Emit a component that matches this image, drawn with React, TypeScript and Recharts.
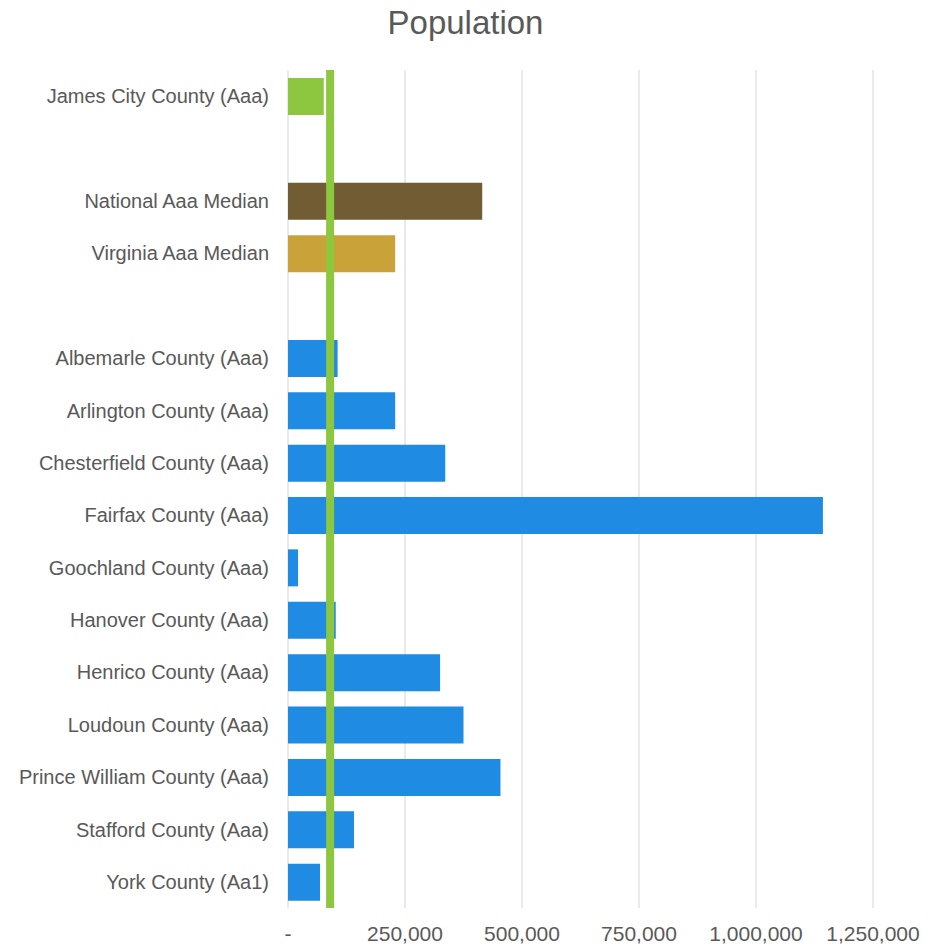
import { BarChart, Bar, XAxis, YAxis, CartesianGrid, Cell, ReferenceLine } from 'recharts';

const counties = [
  'James City County (Aaa)',
  '',
  'National Aaa Median',
  'Virginia Aaa Median',
  '',
  'Albemarle County (Aaa)',
  'Arlington County (Aaa)',
  'Chesterfield County (Aaa)',
  'Fairfax County (Aaa)',
  'Goochland County (Aaa)',
  'Hanover County (Aaa)',
  'Henrico County (Aaa)',
  'Loudoun County (Aaa)',
  'Prince William County (Aaa)',
  'Stafford County (Aaa)',
  'York County (Aa1)',
];

const population = [
  76400, null, 415000, 229000, null,
  106000, 229000, 336000, 1143000, 21500,
  102000, 325000, 375000, 454000, 141000, 68500,
];

const barColors = [
  '#8dc63f', '#ffffff', '#725c33', '#c9a339', '#ffffff',
  '#1f8be3', '#1f8be3', '#1f8be3', '#1f8be3', '#1f8be3',
  '#1f8be3', '#1f8be3', '#1f8be3', '#1f8be3', '#1f8be3', '#1f8be3',
];

const xTicks = [0, 250000, 500000, 750000, 1000000, 1250000];

// James City County line
const referenceValue = 90000;

const data = counties.map((name, i) => ({ id: `row${i}`, name, value: population[i] }));

const fmt = (v: number) => (v === 0 ? '-' : v.toLocaleString('en-US'));

export default function App() {
  return (
    <div style={{ position: 'absolute', left: 0, top: 0, width: 945, height: 948, background: '#fff' }}>
      <div
        style={{
          position: 'absolute',
          left: 0,
          top: 4,
          width: 931,
          textAlign: 'center',
          fontFamily: '"Liberation Sans", Arial, sans-serif',
          fontSize: 33,
          color: '#595959',
        }}
      >
        Population
      </div>
      <BarChart
        width={945}
        height={948}
        data={data}
        layout="vertical"
        margin={{ top: 70, right: 72, bottom: 0, left: 0 }}
      >
        <CartesianGrid horizontal={false} stroke="#e3e3e3" strokeWidth={1.5} />
        <XAxis
          type="number"
          domain={[0, 1250000]}
          ticks={xTicks}
          tickFormatter={fmt}
          axisLine={false}
          tickLine={false}
          height={40}
          tickMargin={12}
          tick={{ fill: '#595959', fontSize: 21, fontFamily: '"Liberation Sans", Arial, sans-serif' }}
        />
        <YAxis
          type="category"
          dataKey="id"
          tickFormatter={(v: string) => data.find((d) => d.id === v)?.name ?? ''}
          width={288}
          axisLine={false}
          tickLine={false}
          tickMargin={13}
          interval={0}
          tick={{ fill: '#595959', fontSize: 20, fontFamily: '"Liberation Sans", Arial, sans-serif' }}
        />
        <Bar dataKey="value" barSize={37} isAnimationActive={false}>
          {data.map((d, i) => (
            <Cell key={d.id} fill={barColors[i]} />
          ))}
        </Bar>
        <ReferenceLine x={referenceValue} stroke="#8dc63f" strokeWidth={8} />
      </BarChart>
    </div>
  );
}
